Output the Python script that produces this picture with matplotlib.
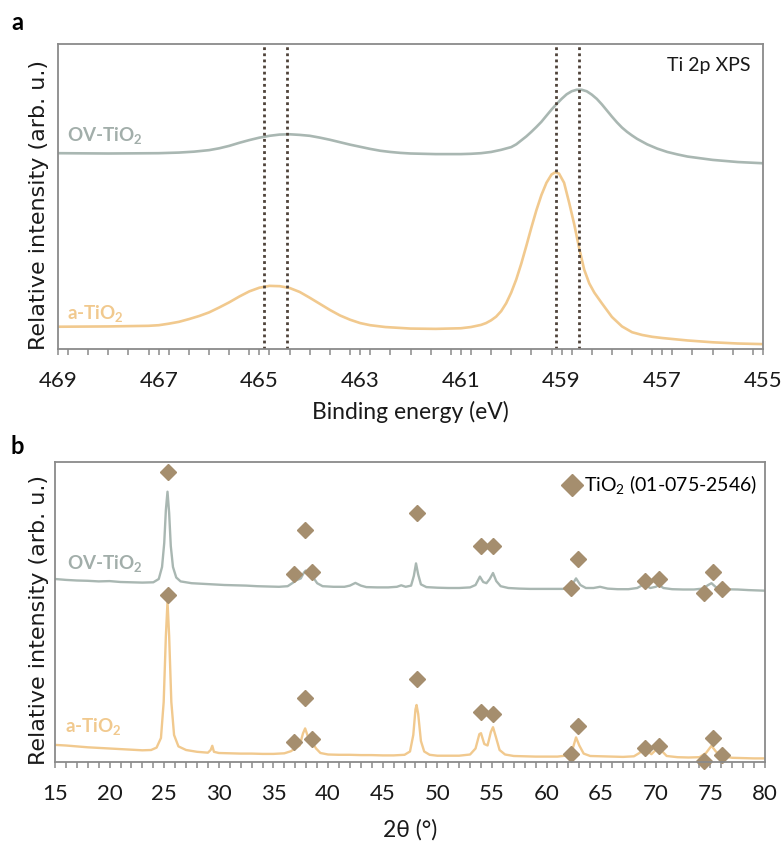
import numpy as np
import matplotlib
matplotlib.use("Agg")
import matplotlib.pyplot as plt
from matplotlib.ticker import MultipleLocator
from matplotlib.lines import Line2D

plt.rcParams['font.family'] = ['Lato', 'DejaVu Sans']
plt.rcParams['mathtext.fontset'] = 'custom'
plt.rcParams['mathtext.rm'] = 'Lato'
plt.rcParams['mathtext.it'] = 'Lato:italic'
plt.rcParams['mathtext.bf'] = 'Lato:bold'

# ---------------- XPS data (Ti 2p) ----------------
xps_ov_be = [469.0, 468.0, 467.0, 466.6, 466.3, 466.0, 465.8, 465.6, 465.4, 465.2, 465.0, 464.8,
             464.6, 464.4, 464.2, 464.0, 463.8, 463.6, 463.4, 463.2, 463.0, 462.8, 462.6, 462.4,
             462.2, 462.0, 461.5, 461.0, 460.8, 460.6, 460.4, 460.2, 460.0, 459.9, 459.8, 459.7,
             459.6, 459.5, 459.4, 459.3, 459.2, 459.1, 459.0, 458.9, 458.8, 458.7, 458.6, 458.5,
             458.4, 458.3, 458.2, 458.1, 458.0, 457.9, 457.8, 457.7, 457.6, 457.5, 457.3, 457.1,
             456.9, 456.7, 456.5, 456.0, 455.5, 455.0]
xps_ov_int = [0.642, 0.641, 0.642, 0.644, 0.647, 0.652, 0.658, 0.666, 0.676, 0.685, 0.693, 0.699,
              0.703, 0.704, 0.702, 0.699, 0.693, 0.686, 0.678, 0.670, 0.663, 0.656, 0.650, 0.646,
              0.643, 0.641, 0.639, 0.639, 0.640, 0.642, 0.646, 0.653, 0.662, 0.671, 0.684, 0.697,
              0.712, 0.728, 0.745, 0.765, 0.785, 0.803, 0.820, 0.835, 0.845, 0.850, 0.850, 0.845,
              0.834, 0.820, 0.802, 0.782, 0.762, 0.743, 0.726, 0.712, 0.700, 0.689, 0.671, 0.657,
              0.646, 0.638, 0.631, 0.620, 0.613, 0.609]

xps_a_be = [469.0, 468.0, 467.2, 467.0, 466.8, 466.6, 466.4, 466.2, 466.0, 465.8, 465.6, 465.4,
            465.2, 465.0, 464.8, 464.6, 464.4, 464.2, 464.0, 463.8, 463.6, 463.4, 463.2, 463.0,
            462.8, 462.5, 462.0, 461.5, 461.0, 460.8, 460.6, 460.5, 460.4, 460.3, 460.2, 460.1,
            460.0, 459.9, 459.8, 459.7, 459.6, 459.5, 459.4, 459.3, 459.2, 459.12, 459.05, 458.95,
            458.85, 458.75, 458.65, 458.55, 458.45, 458.35, 458.2, 458.0, 457.8, 457.6, 457.4,
            457.2, 457.0, 456.5, 456.0, 455.5, 455.0]
xps_a_int = [0.073, 0.074, 0.076, 0.078, 0.083, 0.089, 0.098, 0.108, 0.120, 0.136, 0.153, 0.172,
             0.189, 0.201, 0.207, 0.206, 0.200, 0.187, 0.168, 0.148, 0.128, 0.110, 0.096, 0.085,
             0.078, 0.072, 0.067, 0.066, 0.068, 0.072, 0.079, 0.085, 0.094, 0.106, 0.124, 0.150,
             0.185, 0.228, 0.280, 0.338, 0.398, 0.455, 0.505, 0.545, 0.572, 0.580, 0.575, 0.545,
             0.480, 0.410, 0.330, 0.260, 0.215, 0.185, 0.150, 0.105, 0.074, 0.055, 0.046,
             0.040, 0.036, 0.028, 0.022, 0.018, 0.016]

xps_ref_lines = [464.91, 464.45, 459.12, 458.66]
xps_ticks = [469, 467, 465, 463, 461, 459, 457, 455]

# ---------------- XRD data ----------------
xrd_ov_2t = [15.0, 16.0, 17.0, 18.0, 19.0, 20.0, 21.0, 22.0, 23.0, 24.0, 24.5, 24.8, 25.0, 25.15,
             25.3, 25.45, 25.6, 25.8, 26.1, 26.5, 27.5, 28.5, 29.5, 30.5, 31.5, 32.5, 33.5, 34.5,
             35.5, 36.3, 36.8, 37.1, 37.5, 37.8, 37.95, 38.2, 38.5, 38.7, 39.0, 39.5, 40.5, 41.5,
             42.0, 42.5, 43.0, 43.5, 44.5, 45.5, 46.3, 46.7, 47.1, 47.6, 47.85, 48.05, 48.25, 48.5,
             49.0, 50.0, 51.0, 52.0, 53.0, 53.5, 53.9, 54.2, 54.5, 54.8, 55.1, 55.4, 55.8, 56.5,
             57.5, 58.5, 59.5, 60.5, 61.5, 62.2, 62.7, 63.1, 63.6, 64.3, 64.9, 65.6, 66.5, 67.5,
             68.3, 68.9, 69.5, 70.0, 70.3, 70.7, 71.5, 72.5, 73.5, 74.3, 74.8, 75.1, 75.5, 76.2,
             77.5, 78.5, 80.0]
xrd_ov_int = [0.610, 0.607, 0.605, 0.604, 0.602, 0.603, 0.600, 0.599, 0.598, 0.599, 0.610, 0.650,
              0.730, 0.840, 0.901, 0.830, 0.720, 0.650, 0.615, 0.602, 0.596, 0.594, 0.592, 0.590,
              0.589, 0.588, 0.586, 0.585, 0.584, 0.586, 0.598, 0.606, 0.612, 0.632, 0.638, 0.625,
              0.618, 0.612, 0.596, 0.586, 0.584, 0.584, 0.588, 0.597, 0.588, 0.583, 0.582, 0.582,
              0.584, 0.589, 0.584, 0.588, 0.620, 0.662, 0.625, 0.592, 0.583, 0.581, 0.580, 0.580,
              0.582, 0.590, 0.618, 0.600, 0.596, 0.610, 0.630, 0.603, 0.586, 0.580, 0.578, 0.577,
              0.577, 0.577, 0.577, 0.582, 0.612, 0.590, 0.580, 0.580, 0.584, 0.578, 0.576, 0.576,
              0.580, 0.592, 0.580, 0.584, 0.590, 0.580, 0.576, 0.575, 0.575, 0.578, 0.590, 0.596,
              0.583, 0.576, 0.575, 0.573, 0.571]

xrd_a_2t = [15.0, 15.5, 16.0, 17.0, 18.0, 19.0, 20.0, 21.0, 22.0, 23.0, 23.8, 24.3, 24.7, 24.95,
            25.15, 25.3, 25.45, 25.65, 25.9, 26.3, 27.0, 28.0, 29.0, 29.25, 29.4, 29.55, 30.0, 31.0,
            32.0, 33.0, 34.0, 35.0, 36.0, 36.6, 37.0, 37.4, 37.7, 37.9, 38.15, 38.4, 38.6, 38.9,
            39.3, 40.0, 41.0, 42.0, 43.0, 44.0, 45.0, 46.0, 47.0, 47.5, 47.8, 48.0, 48.1, 48.25,
            48.5, 48.8, 49.3, 50.0, 51.0, 52.0, 53.0, 53.5, 53.85, 54.0, 54.3, 54.6, 54.9, 55.1,
            55.35, 55.7, 56.2, 57.0, 58.0, 59.0, 60.0, 61.0, 62.0, 62.4, 62.7, 63.0, 63.4, 64.0,
            65.0, 66.0, 67.0, 68.0, 68.5, 68.9, 69.3, 69.6, 70.0, 70.3, 70.6, 71.0, 72.0, 73.0,
            74.0, 74.6, 75.1, 75.5, 76.0, 77.0, 78.0, 79.0, 80.0]
xrd_a_int = [0.057, 0.056, 0.055, 0.052, 0.049, 0.047, 0.045, 0.043, 0.041, 0.039, 0.040, 0.048,
             0.080, 0.200, 0.420, 0.535, 0.420, 0.200, 0.090, 0.052, 0.040, 0.034, 0.031, 0.040,
             0.054, 0.034, 0.030, 0.029, 0.028, 0.028, 0.027, 0.027, 0.029, 0.036, 0.046, 0.055,
             0.095, 0.112, 0.085, 0.062, 0.062, 0.045, 0.030, 0.025, 0.024, 0.024, 0.023, 0.023,
             0.022, 0.022, 0.024, 0.035, 0.090, 0.175, 0.190, 0.160, 0.070, 0.035, 0.024, 0.021,
             0.021, 0.021, 0.025, 0.045, 0.093, 0.096, 0.060, 0.055, 0.100, 0.116, 0.085, 0.040,
             0.025, 0.020, 0.019, 0.018, 0.018, 0.018, 0.022, 0.045, 0.082, 0.055, 0.028, 0.020,
             0.019, 0.018, 0.017, 0.019, 0.030, 0.046, 0.035, 0.026, 0.040, 0.051, 0.035, 0.020,
             0.016, 0.015, 0.016, 0.030, 0.054, 0.035, 0.020, 0.014, 0.013, 0.012, 0.012]

ref_ov_2t = [25.3, 36.9, 37.9, 38.56, 48.1, 54.0, 55.1, 62.2, 62.9, 69.0, 70.3, 74.4, 75.2, 76.1]
ref_ov_int = [0.968, 0.627, 0.773, 0.632, 0.829, 0.721, 0.721, 0.581, 0.677, 0.604, 0.610, 0.564, 0.634, 0.576]
ref_a_2t = [25.3, 36.9, 37.9, 38.56, 48.1, 54.0, 55.1, 62.2, 62.9, 69.0, 70.3, 74.4, 75.2, 76.1]
ref_a_int = [0.557, 0.068, 0.214, 0.076, 0.276, 0.166, 0.160, 0.027, 0.120, 0.046, 0.054, 0.004, 0.079, 0.023]
xrd_ticks = [15, 20, 25, 30, 35, 40, 45, 50, 55, 60, 65, 70, 75, 80]

# ---------------- styling ----------------
c_ov = '#a9b7b2'
c_a = '#f1c98e'
c_dia = '#a58e6e'
c_spine = '#8a8a8a'
c_ref = '#4e4239'

W, H = 783, 841
fig = plt.figure(figsize=(W / 100, H / 100), dpi=100)


def frac_axes(x0, y0, x1, y1):
    return fig.add_axes([x0 / W, 1 - y1 / H, (x1 - x0) / W, (y1 - y0) / H])


def style_axes(ax):
    for s in ax.spines.values():
        s.set_color(c_spine)
        s.set_linewidth(1.3)
    ax.set_yticks([])
    ax.tick_params(axis='x', which='both', direction='out', length=4, width=1.1,
                   color=c_spine, labelsize=16, pad=12, labelcolor='#1a1a1a')


# ---- panel a ----
ax1 = frac_axes(58, 44, 763, 349)
ax1.plot(xps_ov_be, xps_ov_int, color=c_ov, lw=1.9)
ax1.plot(xps_a_be, xps_a_int, color=c_a, lw=1.9)
for xr in xps_ref_lines:
    ax1.axvline(xr, color=c_ref, lw=2.0, ls=(0, (1, 1.2)))
ax1.set_xlim(469, 455)
ax1.set_ylim(0, 1)
ax1.set_xticks(xps_ticks)
ax1.xaxis.set_minor_locator(MultipleLocator(0.4))
style_axes(ax1)
ax1.text(0.013, 0.70, 'OV-TiO$_{\\mathbf{2}}$', transform=ax1.transAxes, color='#a2aeaa',
         fontsize=13.5, fontweight='bold', va='center', ha='left')
ax1.text(0.013, 0.118, 'a-TiO$_{\\mathbf{2}}$', transform=ax1.transAxes, color=c_a,
         fontsize=13.5, fontweight='bold', va='center', ha='left')
ax1.text(0.982, 0.93, 'Ti 2p XPS', transform=ax1.transAxes, color='#1a1a1a',
         fontsize=14, va='center', ha='right')

# ---- panel b ----
ax2 = frac_axes(55, 462, 765, 762)
ax2.plot(xrd_ov_2t, xrd_ov_int, color=c_ov, lw=1.7)
ax2.plot(xrd_a_2t, xrd_a_int, color=c_a, lw=1.7)
ax2.plot(ref_ov_2t, ref_ov_int, ls='none', marker='D', ms=8, color=c_dia, clip_on=False)
ax2.plot(ref_a_2t, ref_a_int, ls='none', marker='D', ms=8, color=c_dia, clip_on=False)
ax2.set_xlim(15, 80)
ax2.set_ylim(0, 1)
ax2.set_xticks(xrd_ticks)
ax2.xaxis.set_minor_locator(MultipleLocator(1))
style_axes(ax2)
ax2.text(0.017, 0.66, 'OV-TiO$_{\\mathbf{2}}$', transform=ax2.transAxes, color='#a2aeaa',
         fontsize=13.5, fontweight='bold', va='center', ha='left')
ax2.text(0.014, 0.117, 'a-TiO$_{\\mathbf{2}}$', transform=ax2.transAxes, color=c_a,
         fontsize=13.5, fontweight='bold', va='center', ha='left')
handle = Line2D([], [], ls='none', marker='D', ms=11, color=c_dia)
ax2.legend([handle], ['TiO$_2$ (01-075-2546)'], loc='upper right', frameon=False,
           fontsize=14, handletextpad=0.2, handlelength=0.9, borderaxespad=0.0,
           borderpad=0.2, bbox_to_anchor=(0.995, 0.975))

# ---- axis titles ----
fig.text(410 / W, 1 - 412 / H, 'Binding energy (eV)', ha='center', va='center',
         fontsize=16.5, color='#1a1a1a')
fig.text(410 / W, 1 - 830 / H, '2\u03b8 (\u00b0)', ha='center', va='center',
         fontsize=16.5, color='#1a1a1a')
for yc in [(44 + 349) / 2 + 8, (462 + 762) / 2 + 8]:
    fig.text(39 / W, 1 - yc / H, 'Relative intensity (arb. u.)', rotation=90,
             ha='center', va='center', fontsize=16, color='#1a1a1a',
             family=['DejaVu Sans'])

fig.text(17 / W, 1 - 22 / H, 'a', fontsize=17, fontweight='bold', ha='center', va='center')
fig.text(17 / W, 1 - 447 / H, 'b', fontsize=17, fontweight='bold', ha='center', va='center')

fig.savefig('out.png', dpi=100)
